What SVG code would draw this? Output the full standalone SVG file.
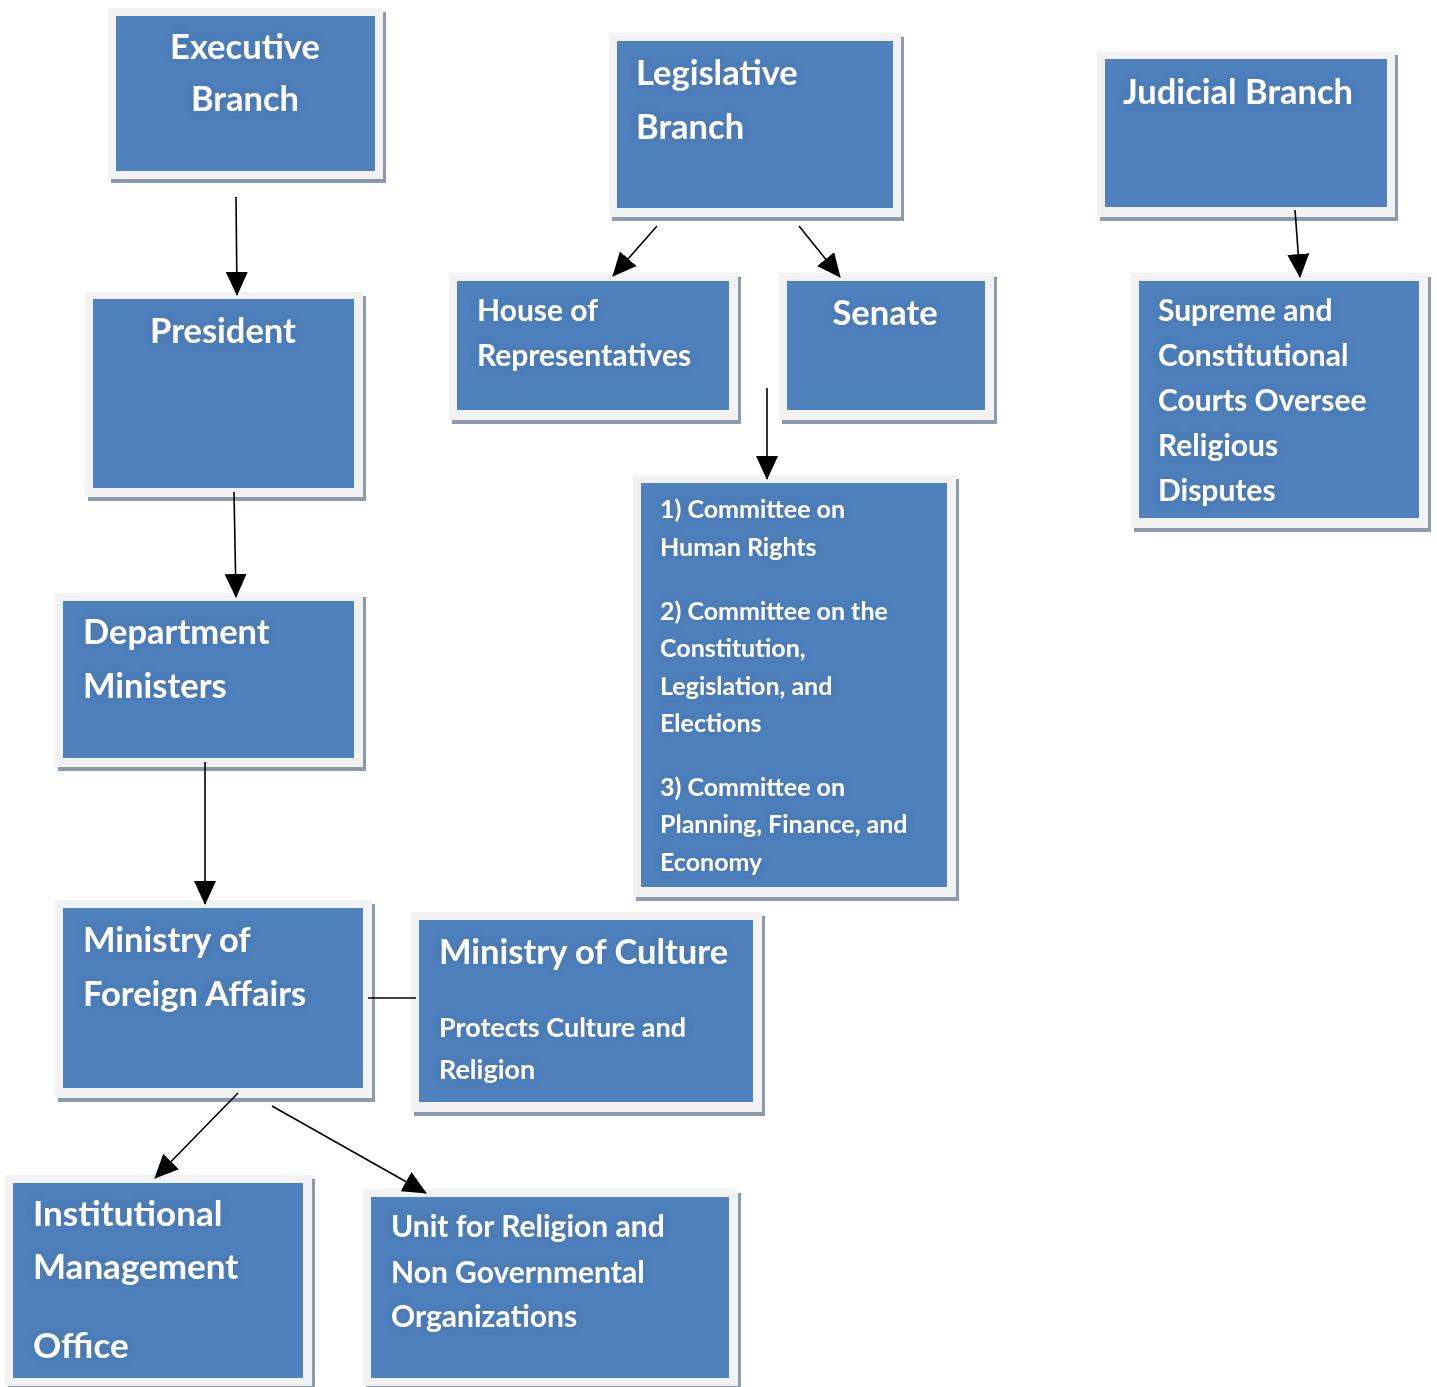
<svg xmlns="http://www.w3.org/2000/svg" width="1437" height="1387" viewBox="0 0 1437 1387">
<style>
.sh{fill:#8d9aad}
.fr{fill:#f2f2f2}
.bx{fill:#4f81bd}
text{font-family:Lato,"Open Sans","Liberation Sans",sans-serif;font-weight:bold;fill:#ffffff}
.t32{font-size:34.5px}
.t28{font-size:30px}
.t25{font-size:27px}
.t22{font-size:25px}
.c{text-anchor:middle}
.cn{stroke:#000;stroke-width:1.6;fill:none}
.ar{marker-end:url(#ah)}
</style>
<defs>
<marker id="ah" markerUnits="userSpaceOnUse" markerWidth="24" markerHeight="22" viewBox="0 0 24 22" refX="23" refY="11" orient="auto">
<path d="M0,0 L24,11 L0,22 Z" fill="#000"/>
</marker>
<filter id="gl" x="-10%" y="-30%" width="120%" height="160%">
<feDropShadow dx="0" dy="0" stdDeviation="5" flood-color="#2a4a78" flood-opacity="0.35"/>
</filter>
</defs>
<g id="executive">
<rect class="sh" x="111" y="12" width="275" height="171"/>
<rect class="fr" x="108" y="8" width="275" height="171"/>
<rect class="bx" x="116" y="16" width="259" height="155"/>
<g filter="url(#gl)"><text class="t32 c" x="245" y="59">Executive</text><text class="t32 c" x="245" y="111">Branch</text></g>
</g>
<g id="legislative">
<rect class="sh" x="612" y="37" width="292" height="184"/>
<rect class="fr" x="609" y="33" width="292" height="184"/>
<rect class="bx" x="617" y="41" width="276" height="167"/>
<g filter="url(#gl)"><text class="t32" x="636" y="85">Legislative</text><text class="t32" x="636" y="139">Branch</text></g>
</g>
<g id="judicial">
<rect class="sh" x="1100" y="55" width="298" height="166"/>
<rect class="fr" x="1097" y="51" width="298" height="166"/>
<rect class="bx" x="1105" y="59" width="282" height="148"/>
<g filter="url(#gl)"><text class="t32" x="1123" y="104">Judicial Branch</text></g>
</g>
<g id="president">
<rect class="sh" x="88" y="296" width="278" height="205"/>
<rect class="fr" x="85" y="292" width="278" height="205"/>
<rect class="bx" x="93" y="299" width="261" height="189"/>
<g filter="url(#gl)"><text class="t32 c" x="223" y="343">President</text></g>
</g>
<g id="house">
<rect class="sh" x="452" y="277" width="289" height="147"/>
<rect class="fr" x="449" y="273" width="289" height="147"/>
<rect class="bx" x="457" y="281" width="272" height="129"/>
<g filter="url(#gl)"><text class="t28" x="477" y="321">House of</text><text class="t28" x="477" y="366">Representatives</text></g>
</g>
<g id="senate">
<rect class="sh" x="782" y="277" width="215" height="147"/>
<rect class="fr" x="779" y="273" width="215" height="147"/>
<rect class="bx" x="787" y="281" width="198" height="129"/>
<g filter="url(#gl)"><text class="t32 c" x="885" y="325">Senate</text></g>
</g>
<g id="committees">
<rect class="sh" x="636" y="479" width="323" height="422"/>
<rect class="fr" x="633" y="475" width="323" height="422"/>
<rect class="bx" x="641" y="483" width="306" height="404"/>
<g filter="url(#gl)">
<text class="t22" x="660" y="518">1) Committee on</text>
<text class="t22" x="660" y="556">Human Rights</text>
<text class="t22" x="660" y="620">2) Committee on the</text>
<text class="t22" x="660" y="657">Constitution,</text>
<text class="t22" x="660" y="695">Legislation, and</text>
<text class="t22" x="660" y="732">Elections</text>
<text class="t22" x="660" y="796">3) Committee on</text>
<text class="t22" x="660" y="833">Planning, Finance, and</text>
<text class="t22" x="660" y="871">Economy</text>
</g>
</g>
<g id="supreme">
<rect class="sh" x="1134" y="277" width="297" height="255"/>
<rect class="fr" x="1131" y="273" width="297" height="255"/>
<rect class="bx" x="1139" y="281" width="280" height="237"/>
<g filter="url(#gl)">
<text class="t28" x="1158" y="321">Supreme and</text>
<text class="t28" x="1158" y="366">Constitutional</text>
<text class="t28" x="1158" y="411">Courts Oversee</text>
<text class="t28" x="1158" y="456">Religious</text>
<text class="t28" x="1158" y="501">Disputes</text>
</g>
</g>
<g id="department">
<rect class="sh" x="58" y="597" width="308" height="174"/>
<rect class="fr" x="55" y="593" width="308" height="174"/>
<rect class="bx" x="63" y="601" width="291" height="157"/>
<g filter="url(#gl)"><text class="t32" x="83" y="644">Department</text><text class="t32" x="83" y="698">Ministers</text></g>
</g>
<g id="foreign">
<rect class="sh" x="58" y="904" width="317" height="198"/>
<rect class="fr" x="55" y="900" width="317" height="198"/>
<rect class="bx" x="63" y="908" width="300" height="180"/>
<g filter="url(#gl)"><text class="t32" x="83" y="952">Ministry of</text><text class="t32" x="83" y="1006">Foreign Affairs</text></g>
</g>
<g id="culture">
<rect class="sh" x="414" y="916" width="351" height="200"/>
<rect class="fr" x="411" y="912" width="351" height="200"/>
<rect class="bx" x="419" y="920" width="334" height="182"/>
<g filter="url(#gl)">
<text class="t32" x="439" y="964">Ministry of Culture</text>
<text class="t25" x="439" y="1037">Protects Culture and</text>
<text class="t25" x="439" y="1079">Religion</text>
</g>
</g>
<g id="institutional">
<rect class="sh" x="8" y="1179" width="307" height="211"/>
<rect class="fr" x="5" y="1175" width="307" height="211"/>
<rect class="bx" x="13" y="1183" width="290" height="195"/>
<g filter="url(#gl)">
<text class="t32" x="33" y="1226" style="font-size:35px">Institutional</text>
<text class="t32" x="33" y="1279" style="font-size:35px">Management</text>
<text class="t32" x="33" y="1358" style="font-size:35px">Office</text>
</g>
</g>
<g id="unit">
<rect class="sh" x="366" y="1193" width="375" height="197"/>
<rect class="fr" x="363" y="1189" width="375" height="197"/>
<rect class="bx" x="371" y="1197" width="358" height="181"/>
<g filter="url(#gl)">
<text class="t28" x="391" y="1237">Unit for Religion and</text>
<text class="t28" x="391" y="1283">Non Governmental</text>
<text class="t28" x="391" y="1327">Organizations</text>
</g>
</g>
<g id="connectors">
<line class="cn ar" x1="236" y1="197" x2="237" y2="295"/>
<line class="cn ar" x1="234" y1="492" x2="236" y2="597"/>
<line class="cn ar" x1="205" y1="762" x2="205" y2="904"/>
<line class="cn ar" x1="657" y1="226" x2="613" y2="276"/>
<line class="cn ar" x1="799" y1="226" x2="840" y2="277"/>
<line class="cn ar" x1="767" y1="388" x2="767" y2="479"/>
<line class="cn ar" x1="1295" y1="210" x2="1300" y2="277"/>
<line class="cn" x1="368" y1="998" x2="416" y2="998"/>
<line class="cn ar" x1="238" y1="1093" x2="155" y2="1178"/>
<line class="cn ar" x1="272" y1="1106" x2="426" y2="1193"/>
</g>
</svg>
